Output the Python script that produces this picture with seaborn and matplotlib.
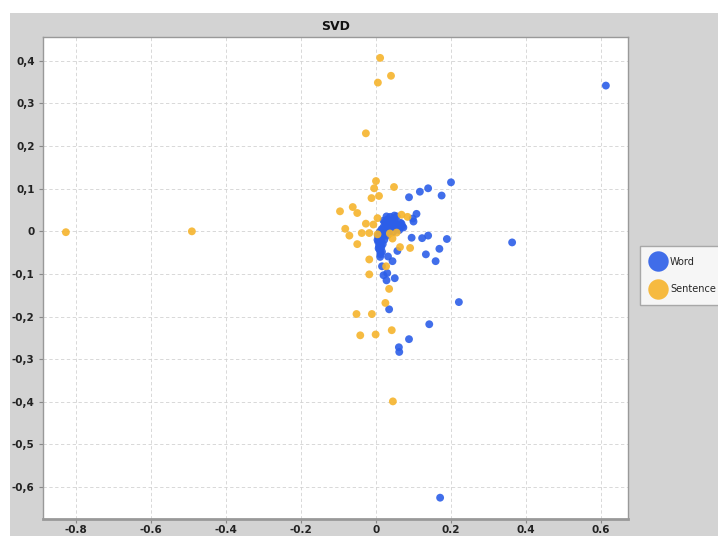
import matplotlib
matplotlib.use("Agg")
import matplotlib.pyplot as plt
import seaborn as sns
import pandas as pd
from matplotlib.patches import Rectangle

# ---- data ----
word_x = [0.613, 0.171, 0.363, 0.221, 0.200, 0.139, 0.117, 0.175, 0.088, 0.108,
          0.098, 0.100, 0.049, 0.055, 0.073, 0.095, 0.123, 0.139, 0.189, 0.169,
          0.133, 0.159, 0.057, 0.032, 0.044, 0.012, 0.016, 0.030, 0.020, 0.050,
          0.028, 0.035, 0.142, 0.088, 0.061, 0.062,
          0.020, 0.030, 0.040, 0.025, 0.035, 0.045, 0.055, 0.060, 0.020, 0.030,
          0.040, 0.050, 0.015, 0.025, 0.035, 0.045, 0.012, 0.020, 0.030, 0.008,
          0.015, 0.022, 0.006, 0.012, 0.018, 0.008, 0.014, 0.010, 0.016, 0.012,
          0.065, 0.070, 0.050, 0.028, 0.038,
          0.024, 0.033, 0.042, 0.052, 0.028, 0.038, 0.048, 0.058, 0.018, 0.027,
          0.037, 0.047, 0.010, 0.017, 0.026, 0.005, 0.011, 0.004, 0.009, 0.013,
          0.007, 0.011, 0.062, 0.068, 0.043, 0.033]
word_y = [0.342, -0.625, -0.026, -0.166, 0.115, 0.101, 0.093, 0.084, 0.080, 0.041,
          0.030, 0.023, 0.037, 0.035, 0.009, -0.015, -0.016, -0.010, -0.018, -0.041,
          -0.054, -0.070, -0.046, -0.059, -0.070, -0.050, -0.082, -0.098, -0.103, -0.110,
          -0.115, -0.183, -0.218, -0.253, -0.272, -0.283,
          0.025, 0.028, 0.026, 0.018, 0.020, 0.018, 0.015, 0.010, 0.010, 0.012,
          0.008, 0.005, 0.005, 0.002, 0.000, -0.002, -0.005, -0.008, -0.010, -0.015,
          -0.018, -0.020, -0.025, -0.028, -0.030, -0.035, -0.038, -0.044, -0.048, -0.054,
          0.020, 0.012, 0.030, 0.035, 0.034,
          0.022, 0.024, 0.022, 0.020, 0.014, 0.015, 0.012, 0.006, 0.003, 0.006,
          0.004, 0.001, -0.001, -0.003, -0.005, -0.010, -0.012, -0.020, -0.022, -0.033,
          -0.040, -0.060, 0.003, 0.018, 0.012, 0.008]

sent_x = [-0.827, -0.491, 0.011, 0.040, 0.005, -0.027, 0.000, -0.005, 0.048, 0.008,
          -0.012, -0.096, -0.062, -0.050, 0.004, -0.027, -0.007, 0.068, 0.084, -0.082,
          -0.071, -0.038, -0.018, 0.004, 0.037, 0.055, 0.044, -0.050, 0.064, 0.091,
          -0.018, 0.027, -0.018, 0.035, 0.025, -0.052, -0.011, 0.042, -0.042, -0.001,
          0.045]
sent_y = [-0.002, 0.000, 0.407, 0.365, 0.349, 0.230, 0.118, 0.101, 0.104, 0.083,
          0.078, 0.047, 0.057, 0.043, 0.031, 0.018, 0.016, 0.039, 0.034, 0.006,
          -0.010, -0.004, -0.004, -0.007, -0.005, -0.003, -0.017, -0.030, -0.037, -0.039,
          -0.066, -0.082, -0.101, -0.135, -0.168, -0.194, -0.194, -0.232, -0.244, -0.242,
          -0.399]

x_ticks = [-0.8, -0.6, -0.4, -0.2, 0.0, 0.2, 0.4, 0.6]
x_tick_labels = ["-0.8", "-0.6", "-0.4", "-0.2", "0", "0.2", "0.4", "0.6"]
y_ticks = [0.4, 0.3, 0.2, 0.1, 0.0, -0.1, -0.2, -0.3, -0.4, -0.5, -0.6]
y_tick_labels = ["0,4", "0,3", "0,2", "0,1", "0", "-0,1", "-0,2", "-0,3", "-0,4", "-0,5", "-0,6"]

df = pd.DataFrame({
    "x": word_x + sent_x,
    "y": word_y + sent_y,
    "type": ["Word"] * len(word_x) + ["Sentence"] * len(sent_x),
})

sns.set_theme(style="white")
plt.rcParams["font.family"] = ["DejaVu Sans"]

fig = plt.figure(figsize=(7.18, 5.36), dpi=100, facecolor="#d3d3d3")
# white strips at the top and left edge of the picture
fig.patches.append(Rectangle((0, (536 - 13) / 536), 1, 13 / 536, transform=fig.transFigure,
                             facecolor="white", edgecolor="none", zorder=-1))
fig.patches.append(Rectangle((0, 0), 10 / 718, 1, transform=fig.transFigure,
                             facecolor="white", edgecolor="none", zorder=-1))
ax = fig.add_axes([43 / 718, (536 - 519) / 536, 585 / 718, 482 / 536])
ax.set_facecolor("white")

palette = {"Word": "#2c5ee8", "Sentence": "#f6b42c"}
sns.scatterplot(data=df, x="x", y="y", hue="type", hue_order=["Word", "Sentence"],
                palette=palette, s=32, alpha=0.9, linewidth=0, ax=ax, zorder=3)

ax.set_xlim(-0.888, 0.672)
ax.set_ylim(-0.675, 0.456)
ax.set_xticks(x_ticks)
ax.set_xticklabels(x_tick_labels)
ax.set_yticks(y_ticks)
ax.set_yticklabels(y_tick_labels)
ax.grid(True, color="#d2d2d2", linestyle=(0, (4, 3)), linewidth=0.6, zorder=0)
ax.set_axisbelow(True)
ax.tick_params(axis="both", length=3, width=0.8, color="#888888", labelsize=7.5,
               labelcolor="#222222", bottom=True, left=True)
ax.tick_params(axis="x", pad=1.5)
ax.tick_params(axis="y", pad=3)
for lab in ax.get_xticklabels() + ax.get_yticklabels():
    lab.set_fontweight("bold")
for sp in ax.spines.values():
    sp.set_color("#999999")
    sp.set_linewidth(1.0)
ax.spines["bottom"].set_linewidth(2.0)
ax.set_xlabel("")
ax.set_ylabel("")
ax.set_title("SVD", fontsize=9, fontweight="bold", color="#111111", pad=5)

handles, labels = ax.get_legend_handles_labels()
if ax.legend_ is not None:
    ax.legend_.remove()
leg = fig.legend(handles, labels, loc="upper left", bbox_to_anchor=(640 / 718, 1 - 246 / 536),
                 markerscale=2.6, frameon=True, fancybox=False, fontsize=7,
                 handletextpad=0.4, borderpad=1.1, labelspacing=1.8, borderaxespad=0,
                 handlelength=1.6)
leg.get_frame().set_edgecolor("#999999")
leg.get_frame().set_facecolor("white")
for h in leg.legend_handles:
    try:
        h.set_alpha(0.9)
    except Exception:
        pass

fig.savefig("out.png", dpi=100, facecolor=fig.get_facecolor())
